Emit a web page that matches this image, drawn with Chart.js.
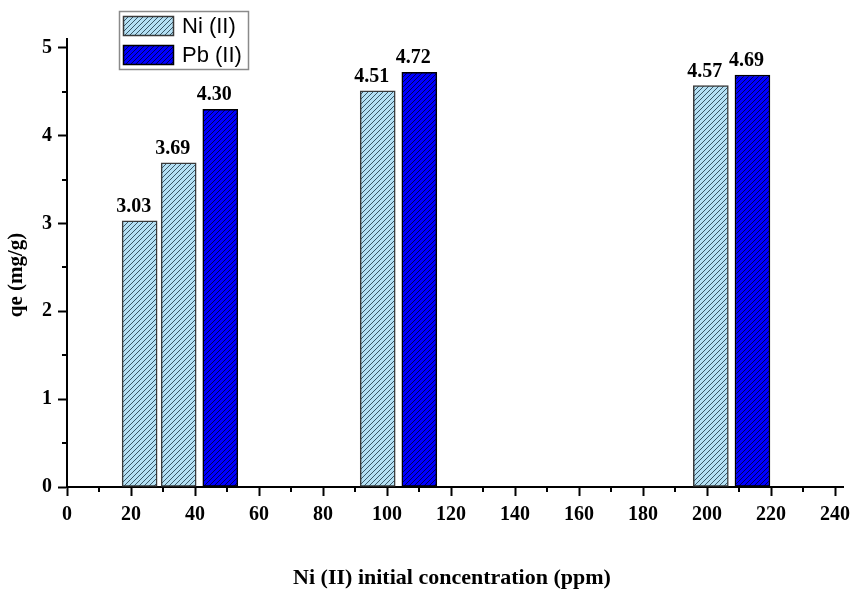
<!DOCTYPE html>
<html>
<head>
<meta charset="utf-8">
<script src="https://cdn.jsdelivr.net/npm/chart.js@4.4.1/dist/chart.umd.min.js"></script>
<style>
  html, body { margin: 0; padding: 0; background: #fff; }
  #wrap { width: 853px; height: 591px; position: relative; }
</style>
</head>
<body>
<div id="wrap"><canvas id="c" width="853" height="591"></canvas></div>
<script>
// ---- data ----
const seriesNames = ['Ni (II)', 'Pb (II)'];
const niX = [22.7, 34.9, 97.1, 201.2];
const niY = [3.03, 3.69, 4.51, 4.57];
const pbX = [47.9, 110.1, 214.2];
const pbY = [4.30, 4.72, 4.69];
const xTicks = [0, 20, 40, 60, 80, 100, 120, 140, 160, 180, 200, 220, 240];
const xMinorTicks = [10, 30, 50, 70, 90, 110, 130, 150, 170, 190, 210, 230];
const yTicks = [0, 1, 2, 3, 4, 5];
const yMinorTicks = [0.5, 1.5, 2.5, 3.5, 4.5];
const xTitle = 'Ni (II) initial concentration (ppm)';
const yTitle = 'qe (mg/g)';

// ---- styles ----
const SERIF = "'Liberation Serif', 'Times New Roman', serif";
const SANS = "'Liberation Sans', Arial, sans-serif";

function hatch(bg, line) {
  const s = 5;
  const cv = document.createElement('canvas');
  cv.width = s; cv.height = s;
  const g = cv.getContext('2d');
  g.fillStyle = bg; g.fillRect(0, 0, s, s);
  g.strokeStyle = line; g.lineWidth = 0.9;
  g.beginPath();
  g.moveTo(-1, s + 1); g.lineTo(s + 1, -1);
  g.moveTo(-1, 1); g.lineTo(1, -1);
  g.moveTo(s - 1, s + 1); g.lineTo(s + 1, s - 1);
  g.stroke();
  return document.getElementById('c').getContext('2d').createPattern(cv, 'repeat');
}
const niFill = hatch('#b4e0f4', '#2b4656');
const pbFill = hatch('#0000ff', '#000040');
const niBorder = '#3a3a3a';
const pbBorder = '#000000';

const toPts = (xs, ys) => xs.map((x, i) => ({ x: x, y: ys[i] }));

const minorTicksPlugin = {
  id: 'minorTicks',
  afterDraw(chart) {
    const ctx = chart.ctx, xs = chart.scales.x, ys = chart.scales.y;
    const a = chart.chartArea;
    ctx.save();
    ctx.strokeStyle = '#000'; ctx.lineWidth = 2;
    ctx.beginPath();
    xMinorTicks.forEach(v => {
      const px = Math.round(xs.getPixelForValue(v));
      ctx.moveTo(px, a.bottom); ctx.lineTo(px, a.bottom + 5);
    });
    yMinorTicks.forEach(v => {
      const py = Math.round(ys.getPixelForValue(v));
      ctx.moveTo(a.left, py); ctx.lineTo(a.left - 5, py);
    });
    ctx.stroke();
    ctx.restore();
  }
};

const titlesPlugin = {
  id: 'axisTitles',
  afterDraw(chart) {
    const ctx = chart.ctx;
    ctx.save();
    ctx.fillStyle = '#000';
    ctx.font = 'bold 22px ' + SERIF;
    ctx.textAlign = 'center'; ctx.textBaseline = 'middle';
    ctx.fillText(xTitle, 452, 578);
    ctx.font = 'bold 21px ' + SERIF;
    ctx.translate(17, 275);
    ctx.rotate(-Math.PI / 2);
    ctx.fillText(yTitle, 0, 0);
    ctx.restore();
  }
};

const valueLabelsPlugin = {
  id: 'valueLabels',
  afterDatasetsDraw(chart) {
    const ctx = chart.ctx;
    ctx.save();
    ctx.fillStyle = '#000';
    ctx.font = 'bold 20px ' + SERIF;
    ctx.textAlign = 'center'; ctx.textBaseline = 'alphabetic';
    chart.data.datasets.forEach((ds, di) => {
      const meta = chart.getDatasetMeta(di);
      meta.data.forEach((el, i) => {
        ctx.fillText(ds.data[i].y.toFixed(2), el.x - 6, el.y - 9);
      });
    });
    ctx.restore();
  }
};

const legendPlugin = {
  id: 'boxLegend',
  afterDraw(chart) {
    const ctx = chart.ctx;
    ctx.save();
    ctx.strokeStyle = '#8a8a8a'; ctx.lineWidth = 1.5;
    ctx.strokeRect(119.5, 11.5, 129, 58);
    chart.data.datasets.forEach((ds, i) => {
      const y = 16 + i * 29;
      ctx.fillStyle = ds.backgroundColor;
      ctx.fillRect(123, y, 51, 20);
      ctx.strokeStyle = ds.borderColor; ctx.lineWidth = 1.5;
      ctx.strokeRect(123.5, y + 0.5, 50, 19);
      ctx.fillStyle = '#000';
      ctx.font = '22px ' + SANS;
      ctx.textAlign = 'left'; ctx.textBaseline = 'middle';
      ctx.fillText(ds.label, 182, y + 11);
    });
    ctx.restore();
  }
};

new Chart(document.getElementById('c'), {
  type: 'bar',
  data: {
    datasets: [
      { label: seriesNames[0], data: toPts(niX, niY), backgroundColor: niFill, borderColor: niBorder, borderWidth: 1.5, borderSkipped: false },
      { label: seriesNames[1], data: toPts(pbX, pbY), backgroundColor: pbFill, borderColor: pbBorder, borderWidth: 1.5, borderSkipped: false }
    ]
  },
  options: {
    responsive: false,
    animation: false,
    devicePixelRatio: 1,
    grouped: false,
    barThickness: 35,
    layout: { padding: { top: 39, right: 10, left: 0, bottom: 0 } },
    plugins: { legend: { display: false }, tooltip: { enabled: false } },
    scales: {
      x: {
        type: 'linear', min: 0, max: 242.5, offset: false,
        afterFit: s => { s.height = 104; s.paddingLeft = 0; s.paddingRight = 0; },
        afterBuildTicks: s => { s.ticks = xTicks.map(v => ({ value: v })); },
        grid: { offset: false, drawOnChartArea: false, drawTicks: true, tickLength: 9, tickWidth: 2, tickColor: '#000' },
        border: { display: true, color: '#000', width: 2 },
        ticks: { color: '#000', padding: 7, maxRotation: 0, autoSkip: false, font: { family: SERIF, size: 20, weight: 'bold' } }
      },
      y: {
        type: 'linear', min: 0, max: 5.1,
        afterFit: s => { s.width = 67; s.paddingTop = 0; s.paddingBottom = 0; },
        afterBuildTicks: s => { s.ticks = yTicks.map(v => ({ value: v })); },
        grid: { offset: false, drawOnChartArea: false, drawTicks: true, tickLength: 9, tickWidth: 2, tickColor: '#000' },
        border: { display: true, color: '#000', width: 2 },
        ticks: { color: '#000', padding: 6, font: { family: SERIF, size: 20, weight: 'bold' } }
      }
    }
  },
  plugins: [minorTicksPlugin, valueLabelsPlugin, titlesPlugin, legendPlugin]
});
</script>
</body>
</html>
